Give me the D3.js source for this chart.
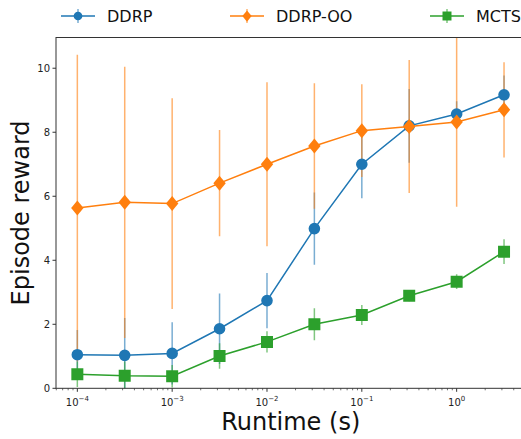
<!DOCTYPE html>
<html>
<head>
<meta charset="utf-8">
<script src="https://cdn.jsdelivr.net/npm/d3@7"></script>
<style>
  body { margin: 0; background: #fff; }
  svg { font-family: "DejaVu Sans", sans-serif; }
</style>
</head>
<body>
<div id="chart"></div>
<script>
// runtimes (s)
const runtimes = [1e-4, 3.16e-4, 1e-3, 3.16e-3, 1e-2, 3.16e-2, 0.1, 0.316, 1, 3.16]

const ddrp = [1.05, 1.03, 1.09, 1.86, 2.74, 4.99, 7.0, 8.2, 8.57, 9.17]
const ddrpErr = [0.77, 1.17, 0.97, 1.1, 0.86, 1.13, 1.06, 1.15, 0.4, 0.6]

const ddrpOO = [5.63, 5.81, 5.77, 6.41, 7.0, 7.57, 8.05, 8.18, 8.32, 8.7]
const ddrpOOErr = [4.79, 4.24, 3.29, 1.66, 2.56, 1.96, 1.45, 2.08, 2.65, 1.49]

const mcts = [0.44, 0.39, 0.375, 1.01, 1.45, 2.0, 2.29, 2.89, 3.33, 4.27]
const mctsErr = [0.4, 0.45, 0.35, 0.4, 0.33, 0.5, 0.31, 0.17, 0.23, 0.39]

const yTicks = [0, 2, 4, 6, 8, 10]
const xTicks = [1e-4, 1e-3, 1e-2, 1e-1, 1]
const xTickExp = ['\u22124', '\u22123', '\u22122', '\u22121', '0']

const series = [
  { name: 'DDRP', vals: ddrp, err: ddrpErr, color: '#1f77b4', marker: 'circle' },
  { name: 'DDRP-OO', vals: ddrpOO, err: ddrpOOErr, color: '#ff7f0e', marker: 'diamond' },
  { name: 'MCTS', vals: mcts, err: mctsErr, color: '#2ca02c', marker: 'square' }
]

const width = 521, height = 439
const mLeft = 56, mTop = 37.5, mBottom = 388.3, mRight = 525.4

const x = d3.scaleLog().domain([Math.pow(10, -4.225), Math.pow(10, 0.725)]).range([mLeft, mRight])
const y = d3.scaleLinear().domain([0, 10.96]).range([mBottom, mTop])

const svg = d3.select('#chart').append('svg')
  .attr('width', width)
  .attr('height', height)

svg.append('defs').append('clipPath').attr('id', 'plotclip')
  .append('rect')
  .attr('x', mLeft).attr('y', mTop)
  .attr('width', mRight - mLeft).attr('height', mBottom - mTop)

const markerPath = (type) => {
  if (type === 'circle') return d3.symbol().type(d3.symbolCircle).size(Math.PI * 5.8 * 5.8)()
  if (type === 'square') return d3.symbol().type(d3.symbolSquare).size(12 * 12)()
  // diamond
  return 'M0,-7.5L6.2,0L0,7.5L-6.2,0Z'
}

const plot = svg.append('g').attr('clip-path', 'url(#plotclip)')

// error bars first
series.forEach(s => {
  plot.append('g').selectAll('line')
    .data(runtimes)
    .enter()
    .append('line')
    .attr('x1', d => x(d))
    .attr('x2', d => x(d))
    .attr('y1', (d, i) => y(s.vals[i] - s.err[i]))
    .attr('y2', (d, i) => y(s.vals[i] + s.err[i]))
    .attr('stroke', s.color)
    .attr('stroke-width', 1.5)
    .attr('stroke-opacity', 0.6)
})

const line = d3.line()
  .x(d => x(d[0]))
  .y(d => y(d[1]))

series.forEach(s => {
  const pts = runtimes.map((r, i) => [r, s.vals[i]])
  plot.append('path')
    .attr('d', line(pts))
    .attr('fill', 'none')
    .attr('stroke', s.color)
    .attr('stroke-width', 1.5)
  plot.append('g').selectAll('path')
    .data(pts)
    .enter()
    .append('path')
    .attr('d', markerPath(s.marker))
    .attr('transform', d => 'translate(' + x(d[0]) + ',' + y(d[1]) + ')')
    .attr('fill', s.color)
})

// axes frame
const frame = svg.append('g').attr('stroke', '#333').attr('stroke-width', 1).attr('fill', 'none')
frame.append('rect')
  .attr('x', mLeft).attr('y', mTop)
  .attr('width', mRight - mLeft).attr('height', mBottom - mTop)

// y ticks
const yAxis = svg.append('g')
yTicks.forEach(t => {
  yAxis.append('line')
    .attr('x1', mLeft - 3.5).attr('x2', mLeft)
    .attr('y1', y(t)).attr('y2', y(t))
    .attr('stroke', '#333')
  yAxis.append('text')
    .attr('x', mLeft - 6)
    .attr('y', y(t))
    .attr('dy', '0.35em')
    .attr('text-anchor', 'end')
    .attr('font-size', 10)
    .attr('fill', '#222')
    .text(t)
})

// x ticks (major + minor)
const xAxis = svg.append('g')
const [d0, d1] = x.domain()
for (let k = -5; k <= 1; k++) {
  for (let m = 1; m <= 9; m++) {
    const v = m * Math.pow(10, k)
    if (v < d0 || v > d1) continue
    const major = m === 1
    xAxis.append('line')
      .attr('x1', x(v)).attr('x2', x(v))
      .attr('y1', mBottom).attr('y2', mBottom + (major ? 3.5 : 2))
      .attr('stroke', '#333')
      .attr('stroke-width', major ? 1 : 0.7)
  }
}
xTicks.forEach((t, i) => {
  const txt = xAxis.append('text')
    .attr('x', x(t))
    .attr('y', mBottom + 18)
    .attr('text-anchor', 'middle')
    .attr('font-size', 10)
    .attr('fill', '#222')
  txt.append('tspan').text('10')
  txt.append('tspan').attr('dy', -5).attr('font-size', 7).text(xTickExp[i])
})

// axis labels
svg.append('text')
  .attr('x', (mLeft + mRight) / 2)
  .attr('y', 430)
  .attr('text-anchor', 'middle')
  .attr('font-size', 24)
  .attr('fill', '#111')
  .text('Runtime (s)')

svg.append('text')
  .attr('transform', 'translate(29,' + ((mTop + mBottom) / 2) + ') rotate(-90)')
  .attr('text-anchor', 'middle')
  .attr('font-size', 24)
  .attr('fill', '#111')
  .text('Episode reward')

// legend
const legendX = [61, 230, 430]
series.forEach((s, i) => {
  const g = svg.append('g').attr('transform', 'translate(' + legendX[i] + ',16)')
  g.append('line').attr('x1', 0).attr('x2', 34).attr('y1', 0).attr('y2', 0)
    .attr('stroke', s.color).attr('stroke-width', 1.5)
  g.append('line').attr('x1', 17).attr('x2', 17).attr('y1', -7).attr('y2', 7)
    .attr('stroke', s.color).attr('stroke-width', 1.5).attr('stroke-opacity', 0.6)
  g.append('path').attr('d', markerPath(s.marker))
    .attr('transform', 'translate(17,0) scale(0.75)')
    .attr('fill', s.color)
  g.append('text')
    .attr('x', 46)
    .attr('y', 0)
    .attr('dy', '0.36em')
    .attr('font-size', 16)
    .attr('fill', '#111')
    .text(s.name)
})
</script>
</body>
</html>
